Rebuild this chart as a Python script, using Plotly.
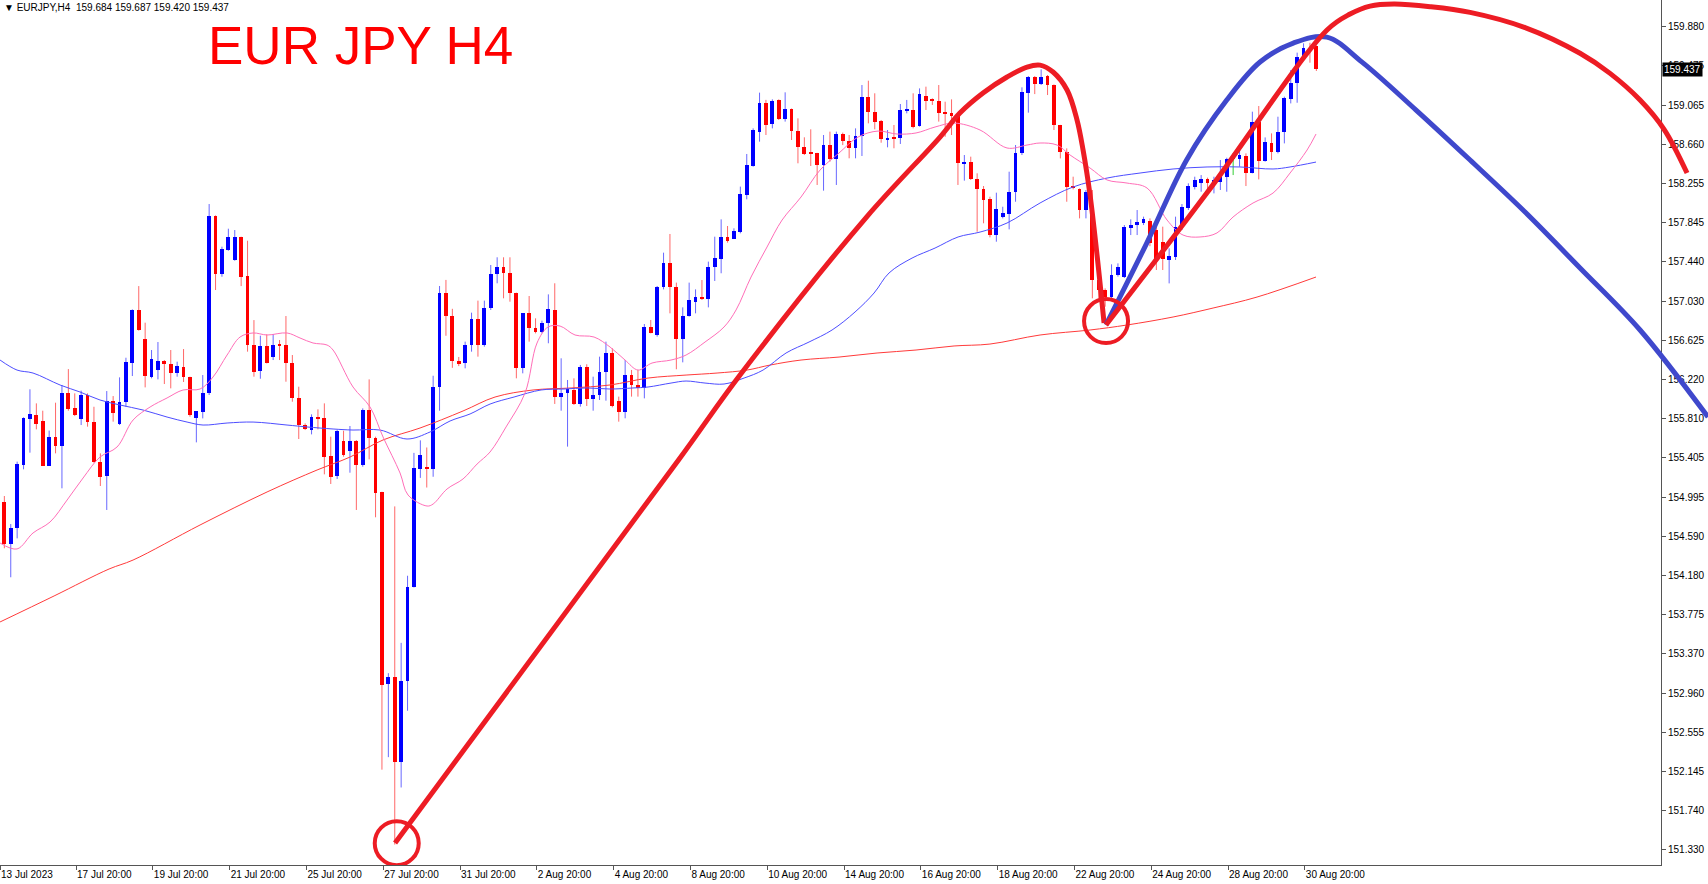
import plotly.graph_objects as go

# ---------------- data ----------------
opens = [154.947, 154.508, 154.670, 155.328, 155.806, 155.847, 155.780, 155.318, 155.615, 155.529,
         156.072, 155.916, 155.802, 156.051, 155.778, 155.362, 155.214, 155.989, 155.754, 155.979,
         156.390, 156.937, 156.633, 156.245, 156.314, 156.408, 156.380, 156.287, 156.349, 156.238,
         155.819, 155.882, 156.079, 157.913, 157.308, 157.564, 157.456, 157.695, 157.290, 156.570,
         156.304, 156.567, 156.449, 156.574, 156.574, 156.383, 156.023, 155.743, 155.691, 155.819,
         155.812, 155.421, 155.214, 155.577, 155.477, 155.577, 155.324, 155.899, 155.612, 155.046,
         153.055, 153.129, 152.246, 153.081, 154.056, 155.291, 155.298, 155.287, 156.141, 157.111,
         156.875, 156.411, 156.384, 156.574, 156.841, 156.574, 156.955, 157.312, 157.381, 157.318,
         157.118, 156.332, 156.903, 156.747, 156.713, 156.806, 156.938, 156.031, 156.072, 156.107,
         155.962, 156.349, 156.014, 156.055, 156.297, 156.488, 155.993, 155.875, 156.263, 156.159,
         156.124, 156.758, 156.678, 157.173, 157.422, 157.173, 156.633, 156.879, 157.024, 157.076,
         157.049, 157.388, 157.467, 157.699, 157.675, 157.751, 158.132, 158.437, 158.790, 159.084,
         158.866, 159.119, 158.918, 159.022, 158.800, 158.634, 158.582, 158.564, 158.444, 158.651,
         158.502, 158.765, 158.693, 158.617, 158.745, 159.146, 158.997, 158.904, 158.703, 158.727,
         158.720, 159.008, 159.015, 158.849, 159.160, 159.119, 159.112, 158.990, 158.987, 158.952,
         158.461, 158.478, 158.295, 158.190, 158.087, 157.716, 157.900, 157.934, 158.166, 158.564,
         159.194, 159.360, 159.284, 159.367, 159.274, 158.858, 158.582, 158.218, 158.190, 157.976,
         157.976, 157.249, 157.145, 157.076, 157.301, 157.284, 157.785, 157.820, 157.844, 157.865,
         157.768, 157.647, 157.457, 157.491, 157.796, 157.993, 158.218, 158.260, 158.294, 158.246,
         158.270, 158.322, 158.512, 158.502, 158.537, 158.364, 158.893, 158.488, 158.668, 158.582,
         158.789, 159.125, 159.291, 159.551, 159.655, 159.684]
highs = [155.006, 154.715, 155.363, 155.823, 156.114, 155.968, 155.892, 155.685, 155.975, 156.159,
         156.324, 156.072, 156.100, 156.072, 155.933, 155.449, 156.096, 156.044, 156.238, 156.442,
         156.944, 157.186, 156.806, 156.522, 156.605, 156.418, 156.522, 156.401, 156.532, 156.245,
         155.888, 156.262, 158.038, 157.920, 157.595, 157.782, 157.768, 157.699, 157.657, 156.833,
         156.671, 156.685, 156.688, 156.626, 156.875, 156.470, 156.141, 155.760, 155.854, 155.906,
         155.968, 155.622, 155.691, 155.684, 155.733, 155.587, 155.916, 156.217, 155.622, 155.050,
         153.166, 154.898, 153.481, 154.178, 155.454, 155.584, 155.510, 156.255, 157.187, 157.250,
         156.950, 156.450, 156.609, 156.910, 157.035, 157.035, 157.405, 157.485, 157.485, 157.485,
         157.118, 156.903, 157.083, 156.851, 156.827, 157.100, 157.215, 156.436, 156.211, 156.228,
         156.367, 156.374, 156.245, 156.453, 156.609, 156.540, 156.038, 156.419, 156.315, 156.315,
         156.792, 156.834, 157.187, 157.533, 157.727, 157.222, 156.965, 157.222, 157.152, 157.249,
         157.440, 157.699, 157.879, 157.810, 157.786, 158.219, 158.558, 158.824, 159.195, 159.120,
         159.125, 159.125, 159.198, 159.030, 158.928, 158.731, 158.814, 158.570, 158.755, 158.790,
         158.790, 158.780, 158.755, 158.824, 159.274, 159.319, 159.188, 158.911, 158.807, 158.859,
         159.077, 159.119, 159.188, 159.239, 159.257, 159.136, 159.274, 159.101, 159.125, 158.980,
         158.547, 158.530, 158.357, 158.225, 158.114, 158.156, 158.010, 158.374, 158.651, 159.250,
         159.367, 159.367, 159.437, 159.378, 159.280, 158.860, 158.616, 158.322, 158.200, 158.184,
         158.184, 157.457, 157.162, 157.412, 157.422, 157.820, 157.879, 157.976, 157.907, 157.889,
         157.855, 157.803, 157.578, 157.907, 158.038, 158.253, 158.322, 158.339, 158.312, 158.322,
         158.495, 158.519, 158.564, 158.640, 158.564, 158.997, 159.056, 158.730, 158.772, 158.945,
         159.153, 159.430, 159.610, 159.707, 159.713, 159.687]
lows = [154.463, 154.162, 154.566, 155.283, 155.456, 155.698, 155.318, 155.318, 155.449, 155.086,
        155.892, 155.836, 155.743, 155.726, 155.352, 155.110, 154.861, 155.778, 155.743, 155.933,
        156.252, 156.723, 156.134, 156.228, 156.217, 156.169, 156.124, 156.245, 156.190, 155.830,
        155.563, 155.812, 156.055, 157.145, 157.283, 157.553, 157.449, 157.186, 156.505, 156.245,
        156.224, 156.383, 156.418, 156.418, 156.193, 155.985, 155.598, 155.691, 155.646, 155.698,
        155.231, 155.131, 155.183, 155.414, 155.248, 154.861, 155.310, 155.387, 154.785, 152.164,
        152.294, 151.386, 151.979, 152.776, 154.056, 155.194, 155.094, 155.206, 155.892, 156.670,
        156.337, 156.355, 156.332, 156.505, 156.453, 156.557, 156.938, 157.215, 157.059, 157.024,
        156.228, 156.280, 156.609, 156.695, 156.695, 156.592, 155.962, 155.892, 155.519, 155.951,
        155.934, 155.941, 155.892, 156.003, 155.996, 155.927, 155.778, 155.813, 156.038, 156.038,
        156.020, 156.695, 156.661, 157.152, 156.903, 156.322, 156.394, 156.869, 156.903, 157.042,
        156.965, 157.239, 157.319, 157.637, 157.675, 157.734, 158.087, 158.426, 158.686, 158.755,
        158.824, 158.911, 158.894, 158.703, 158.461, 158.547, 158.433, 158.236, 158.177, 158.478,
        158.236, 158.650, 158.513, 158.513, 158.537, 158.876, 158.814, 158.675, 158.627, 158.617,
        158.662, 158.980, 158.824, 158.842, 159.015, 159.067, 158.894, 158.737, 158.755, 158.236,
        158.281, 158.288, 157.751, 157.838, 157.692, 157.647, 157.889, 157.775, 158.062, 158.547,
        158.987, 159.180, 159.274, 159.170, 158.807, 158.512, 158.062, 158.190, 157.889, 157.889,
        157.059, 157.034, 156.972, 157.059, 157.284, 157.270, 157.716, 157.716, 157.820, 157.600,
        157.353, 157.353, 157.214, 157.457, 157.768, 157.976, 158.190, 158.166, 158.156, 158.149,
        158.184, 158.166, 158.339, 158.426, 158.225, 158.357, 158.294, 158.478, 158.495, 158.564,
        158.668, 159.083, 159.090, 159.534, 159.506, 159.420]
closes = [154.508, 154.670, 155.338, 155.812, 155.854, 155.750, 155.318, 155.615, 155.529, 156.072,
          155.906, 155.847, 156.055, 155.778, 155.362, 155.207, 155.996, 155.871, 155.979, 156.394,
          156.937, 156.730, 156.252, 156.432, 156.408, 156.373, 156.287, 156.356, 156.238, 155.843,
          155.885, 156.072, 157.913, 157.308, 157.571, 157.695, 157.695, 157.283, 156.570, 156.297,
          156.560, 156.390, 156.577, 156.567, 156.383, 156.020, 155.743, 155.698, 155.830, 155.806,
          155.414, 155.207, 155.681, 155.428, 155.577, 155.324, 155.899, 155.605, 155.041, 153.044,
          153.129, 152.246, 153.081, 154.056, 155.298, 155.428, 155.287, 156.133, 157.111, 156.875,
          156.411, 156.381, 156.574, 156.841, 156.574, 156.955, 157.312, 157.381, 157.318, 157.118,
          156.332, 156.903, 156.747, 156.713, 156.806, 156.948, 156.038, 156.072, 156.114, 155.962,
          156.349, 156.010, 156.055, 156.297, 156.488, 155.941, 155.875, 156.263, 156.159, 156.124,
          156.758, 156.702, 157.180, 157.422, 157.173, 156.633, 156.879, 157.042, 157.076, 157.049,
          157.388, 157.474, 157.699, 157.654, 157.758, 158.139, 158.444, 158.807, 159.084, 158.859,
          159.112, 158.918, 159.022, 158.800, 158.634, 158.554, 158.564, 158.444, 158.651, 158.502,
          158.765, 158.693, 158.617, 158.745, 159.146, 158.997, 158.894, 158.710, 158.727, 158.714,
          159.015, 159.022, 158.842, 159.177, 159.112, 159.112, 158.987, 158.980, 158.952, 158.467,
          158.478, 158.295, 158.190, 158.080, 157.716, 157.983, 157.948, 158.166, 158.564, 159.205,
          159.360, 159.284, 159.360, 159.274, 158.858, 158.582, 158.218, 158.211, 157.976, 158.166,
          157.249, 157.145, 157.076, 157.301, 157.380, 157.796, 157.820, 157.855, 157.879, 157.630,
          157.457, 157.464, 157.498, 157.803, 158.004, 158.225, 158.287, 158.294, 158.253, 158.287,
          158.322, 158.502, 158.512, 158.547, 158.364, 158.893, 158.488, 158.685, 158.582, 158.789,
          159.135, 159.298, 159.561, 159.655, 159.637, 159.437]
bar_index = list(range(len(opens)))

# moving averages (bar position, price)
ma_fast_x = [-0.67, 1.98, 4.48, 7.14, 9.80, 12.30, 14.95, 17.61, 20.11, 22.77, 25.42, 27.92, 30.58,
             32.61, 34.80, 36.83, 38.86, 41.05, 44.17, 46.20, 48.23, 50.42, 51.36, 54.48, 57.14,
             59.17, 61.83, 63.08, 66.05, 67.0, 69.17, 71.67, 73.86, 75.89, 78.39, 81.36, 83.23,
             84.95, 86.83, 89.17, 92.14, 94.64, 96.98, 99.02, 101.20, 104.17, 106.52, 109.48,
             112.45, 114.33, 116.67, 119.17, 121.52, 124.48, 127.45, 130.42, 133.39, 136.52,
             139.48, 142.45, 145.42, 148.39, 152.45, 156.67, 159.80, 161.83, 164.48, 166.52,
             169.64, 172.30, 175.42, 178.55, 181.67, 184.17, 186.83, 189.48, 191.98, 195.11,
             198.23, 200.89, 203.55, 204.95]
ma_fast_y = [154.518, 154.456, 154.622, 154.736, 154.964, 155.193, 155.411, 155.515, 155.795,
             155.930, 156.024, 156.107, 156.117, 156.242, 156.470, 156.657, 156.699, 156.678,
             156.699, 156.647, 156.595, 156.574, 156.522, 156.138, 155.930, 155.619, 155.245,
             155.016, 154.902, 154.923, 155.079, 155.183, 155.338, 155.463, 155.723, 156.076,
             156.595, 156.761, 156.771, 156.678, 156.657, 156.553, 156.418, 156.314, 156.387,
             156.418, 156.470, 156.605, 156.761, 156.938, 157.280, 157.592, 157.872, 158.111,
             158.391, 158.568, 158.734, 158.796, 158.765, 158.776, 158.838, 158.879, 158.807,
             158.620, 158.651, 158.672, 158.651, 158.547, 158.412, 158.288, 158.256, 158.204,
             157.872, 157.716, 157.696, 157.738, 157.903, 158.049, 158.152, 158.360, 158.599,
             158.765]
ma_mid_x = [-0.67, 1.98, 4.48, 8.70, 11.83, 14.95, 18.08, 21.67, 25.42, 28.55, 31.05, 34.80, 38.86,
            44.17, 47.30, 51.36, 54.48, 58.70, 62.92, 66.52, 69.64, 72.77, 75.89, 79.64, 83.86,
            87.45, 91.05, 94.64, 98.23, 100.58, 104.17, 106.52, 109.48, 112.45, 115.58, 118.55,
            122.14, 125.73, 129.33, 132.92, 135.89, 138.23, 141.83, 145.42, 149.02, 152.45,
            156.67, 161.83, 166.98, 172.30, 177.45, 182.61, 187.92, 193.08, 198.23, 200.89, 204.95]
ma_mid_y = [156.418, 156.314, 156.283, 156.159, 156.086, 156.003, 155.951, 155.899, 155.826,
            155.774, 155.743, 155.764, 155.774, 155.743, 155.723, 155.702, 155.691, 155.691,
            155.598, 155.671, 155.785, 155.858, 155.961, 156.034, 156.107, 156.117, 156.128,
            156.117, 156.128, 156.138, 156.179, 156.200, 156.179, 156.169, 156.231, 156.314,
            156.491, 156.605, 156.730, 156.917, 157.114, 157.322, 157.477, 157.581, 157.696,
            157.747, 157.841, 158.049, 158.215, 158.308, 158.360, 158.402, 158.423, 158.423,
            158.402, 158.423, 158.474]
ma_slow_x = [-0.67, 7.77, 16.36, 20.11, 30.58, 41.05, 48.86, 54.02, 59.17, 64.95, 71.67, 76.67,
             82.61, 88.55, 94.64, 100.58, 106.52, 111.36, 116.05, 119.64, 124.48, 130.42, 136.36,
             142.45, 148.39, 154.0, 161.83, 169.64, 175.42, 182.61, 188.86, 195.73, 204.95]
ma_slow_y = [153.698, 153.968, 154.248, 154.341, 154.705, 155.048, 155.276, 155.411, 155.588,
             155.712, 155.889, 156.034, 156.107, 156.128, 156.159, 156.231, 156.262, 156.283,
             156.314, 156.366, 156.418, 156.449, 156.491, 156.522, 156.564, 156.584, 156.678,
             156.730, 156.782, 156.865, 156.958, 157.072, 157.280]

# hand-drawn annotation paths (bar position, price)
red_path1_x = [61.05, 105.34, 114.95, 134.75, 146.2, 149.3, 152.92, 156.67, 159.80, 161.83, 163.86,
               166.05, 167.61, 168.55, 169.64, 170.42, 171.2, 171.83]
red_path1_y = [151.403, 155.380, 156.263, 157.906, 158.734, 158.983, 159.191, 159.357, 159.461,
               159.481, 159.409, 159.222, 158.910, 158.599, 158.132, 157.695, 157.218, 156.802]
blue_path_x = [172.12, 178.5, 184.75, 191.0, 196.2, 201.4, 206.63, 212.14, 220.58, 229.02, 237.61,
               246.2, 255.58, 266.2]
blue_path_y = [156.782, 157.633, 158.499, 159.118, 159.513, 159.710, 159.772, 159.512, 159.014,
               158.495, 157.955, 157.374, 156.730, 155.826]
red_path2_x = [172.12, 187.89, 206.67, 210.27, 213.39, 217.14, 222.77, 229.02, 237.61, 246.2,
               250.89, 255.58, 259.33, 262.92]
red_path2_y = [156.782, 158.152, 159.845, 160.011, 160.094, 160.115, 160.088, 160.029, 159.871,
               159.604, 159.395, 159.118, 158.814, 158.360]
circle_x = [61.31, 172.14]
circle_y = [151.401, 156.823]

date_tick_bars = [0, 12, 24, 36, 48, 60, 72, 84, 96, 108, 120, 132, 144, 156, 168, 180, 192, 204]
date_tick_labels = ["13 Jul 2023", "17 Jul 20:00", "19 Jul 20:00", "21 Jul 20:00", "25 Jul 20:00",
                    "27 Jul 20:00", "31 Jul 20:00", "2 Aug 20:00", "4 Aug 20:00", "8 Aug 20:00",
                    "10 Aug 20:00", "14 Aug 20:00", "16 Aug 20:00", "18 Aug 20:00", "22 Aug 20:00",
                    "24 Aug 20:00", "28 Aug 20:00", "30 Aug 20:00"]
price_ticks = [151.330, 151.740, 152.145, 152.555, 152.960, 153.370, 153.775, 154.180, 154.590,
               154.995, 155.405, 155.810, 156.220, 156.625, 157.030, 157.440, 157.845, 158.255,
               158.660, 159.065, 159.475, 159.880]
price_tick_labels = ["%.3f" % v for v in price_ticks]
last_price = 159.437
header_text = "▼ EURJPY,H4\u00a0\u00a0159.684 159.687 159.420 159.437"
title_text = "EUR JPY H4"

# ---------------- figure ----------------
W, H = 1708, 884
AX_RIGHT = 1661
BAR_PX = 6.4
L = -0.68

fig = go.Figure()

groups = {
    "up": ("#0000FF", "rgba(0,0,255,0.6)"),
    "down": ("#FF0000", "rgba(255,0,0,0.6)"),
    "flat": ("#00C000", "rgba(0,192,0,0.8)"),
}
for g, (body_col, wick_col) in groups.items():
    idx = [i for i in bar_index
           if (g == "up" and closes[i] > opens[i]) or (g == "down" and closes[i] < opens[i])
           or (g == "flat" and closes[i] == opens[i])]
    if not idx:
        continue
    wx, wy = [], []
    for i in idx:
        wx += [i, i, None]
        wy += [lows[i], highs[i], None]
    fig.add_trace(go.Scatter(x=wx, y=wy, mode="lines", line=dict(color=wick_col, width=1),
                             hoverinfo="skip", xaxis="x", yaxis="y"))
    fig.add_trace(go.Bar(x=idx,
                         base=[min(opens[i], closes[i]) for i in idx],
                         y=[max(abs(closes[i] - opens[i]), 0.011) for i in idx],
                         width=0.6, marker=dict(color=body_col, line=dict(width=0)),
                         hoverinfo="skip", xaxis="x", yaxis="y"))

fig.add_trace(go.Scatter(x=ma_slow_x, y=ma_slow_y, mode="lines",
                         line=dict(color="#FF3A3A", width=1, shape="spline"), xaxis="x", yaxis="y"))
fig.add_trace(go.Scatter(x=ma_mid_x, y=ma_mid_y, mode="lines",
                         line=dict(color="#4D4DFF", width=1, shape="spline"), xaxis="x", yaxis="y"))
fig.add_trace(go.Scatter(x=ma_fast_x, y=ma_fast_y, mode="lines",
                         line=dict(color="#FF6EB8", width=1, shape="spline"), xaxis="x", yaxis="y"))

# annotation drawings on a full-width overlay subplot
fig.add_trace(go.Scatter(x=red_path1_x, y=red_path1_y, mode="lines",
                         line=dict(color="#ED1C24", width=5, shape="spline", smoothing=1.0),
                         xaxis="x2", yaxis="y"))
fig.add_trace(go.Scatter(x=blue_path_x, y=blue_path_y, mode="lines",
                         line=dict(color="#3F48CC", width=5, shape="spline", smoothing=1.0),
                         xaxis="x2", yaxis="y"))
fig.add_trace(go.Scatter(x=red_path2_x, y=red_path2_y, mode="lines",
                         line=dict(color="#ED1C24", width=5, shape="spline", smoothing=1.0),
                         xaxis="x2", yaxis="y"))
fig.add_trace(go.Scatter(x=circle_x, y=circle_y, mode="markers",
                         marker=dict(symbol="circle-open", size=44, color="#ED1C24",
                                     line=dict(color="#ED1C24", width=4)),
                         xaxis="x2", yaxis="y"))

font_ticks = dict(family="Liberation Sans, Arial, sans-serif", size=10, color="#000000")
fig.update_layout(
    width=W, height=H,
    margin=dict(l=0, r=0, t=0, b=19, pad=0),
    paper_bgcolor="white", plot_bgcolor="rgba(0,0,0,0)",
    showlegend=False, barmode="overlay", bargap=0,
    xaxis=dict(domain=[0, AX_RIGHT / W], range=[L, L + AX_RIGHT / BAR_PX],
               tickmode="array", tickvals=[b - 0.8 if b else L + 0.01 for b in date_tick_bars],
               ticktext=date_tick_labels, ticklabelposition="outside right",
               ticks="outside", ticklen=4, tickcolor="#555555", tickwidth=1,
               showline=True, linecolor="#555555", linewidth=1,
               showgrid=False, zeroline=False, tickfont=font_ticks, fixedrange=True),
    xaxis2=dict(domain=[0, 1], range=[L, L + W / BAR_PX], anchor="y", visible=False,
                showgrid=False, zeroline=False, fixedrange=True),
    yaxis=dict(domain=[0, 1], range=[151.174, 160.157], side="right", anchor="x",
               tickmode="array", tickvals=price_ticks, ticktext=price_tick_labels,
               ticks="outside", ticklen=4, tickcolor="#555555", tickwidth=1,
               showline=True, linecolor="#555555", linewidth=1,
               showgrid=False, zeroline=False, tickfont=font_ticks, automargin=False,
               fixedrange=True),
    annotations=[
        dict(text=header_text, xref="paper", yref="paper", x=0.001, y=1.0,
             xanchor="left", yanchor="top", showarrow=False,
             font=dict(family="Liberation Sans, Arial, sans-serif", size=10, color="#000000")),
        dict(text=title_text, xref="paper", yref="paper", x=206 / W, y=1 - 46 / 865,
             xanchor="left", yanchor="middle", showarrow=False,
             font=dict(family="Liberation Sans, Arial, sans-serif", size=53, color="#FF0000")),
        dict(text="%.3f" % last_price, xref="paper", yref="y", x=AX_RIGHT / W, y=last_price,
             xanchor="left", yanchor="middle", showarrow=False, xshift=1,
             bgcolor="#000000", borderpad=1,
             font=dict(family="Liberation Sans, Arial, sans-serif", size=10, color="#FFFFFF")),
    ],
)

fig.write_html("out.html", config={"displayModeBar": False},
               post_script="document.body.style.margin='0px';document.body.style.overflow='hidden';")
